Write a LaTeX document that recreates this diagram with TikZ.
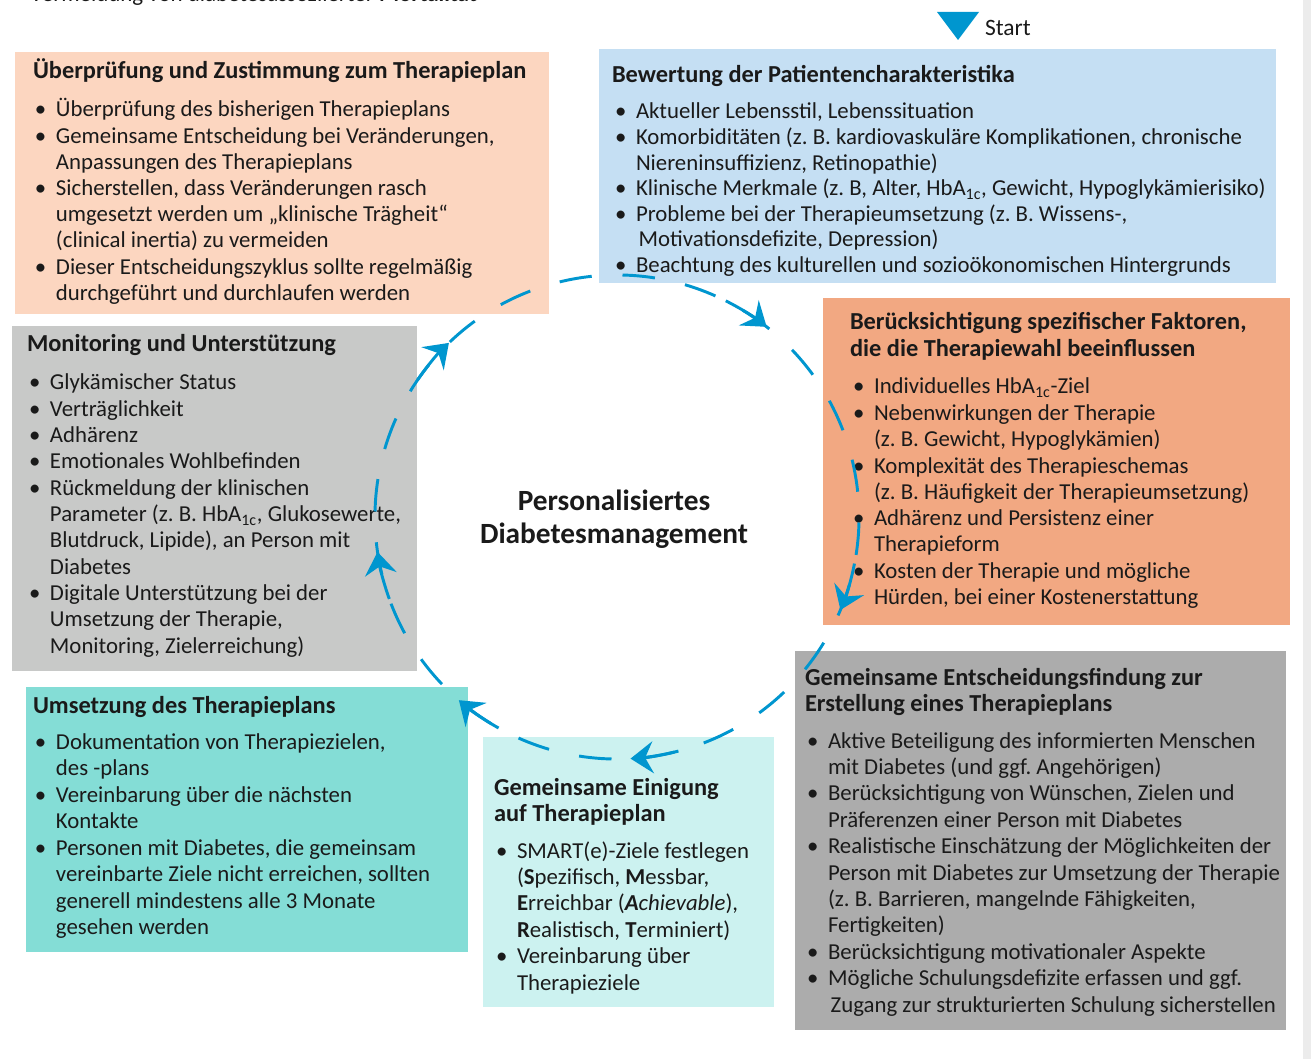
\documentclass[tikz,border=0pt]{standalone}
\usepackage{fontspec}
\setmainfont{Carlito}
\usetikzlibrary{arrows.meta}
\definecolor{cpeach}{RGB}{252,214,192}
\definecolor{cltblue}{RGB}{197,223,243}
\definecolor{csalmon}{RGB}{242,168,130}
\definecolor{cdkgray}{RGB}{172,172,172}
\definecolor{cltcyan}{RGB}{204,242,240}
\definecolor{cteal}{RGB}{132,221,214}
\definecolor{cltgray}{RGB}{200,201,200}
\definecolor{cblue}{RGB}{0,150,207}
\definecolor{ctext}{RGB}{26,26,26}
\definecolor{cedge}{RGB}{236,236,236}
\newlength{\bind}\setlength{\bind}{15.75pt}
\newcommand{\blist}[2]{\parbox[t]{640pt}{\frenchspacing\fontsize{17.1pt}{#1}\selectfont\setlength{\parskip}{0pt}\setlength{\parindent}{0pt}\setlength{\leftskip}{\bind}#2}}
\newcommand{\itm}{\par\noindent\llap{\makebox[\bind][l]{\textbullet}}}
\newcommand{\ttl}[2]{\parbox[t]{640pt}{\frenchspacing\fontsize{18.3pt}{#1}\selectfont\bfseries #2}}
\tikzset{
  x=0.75pt, y=-0.75pt,
  box/.style={anchor=north west, inner sep=0pt, outer sep=0pt, draw=none},
  txt/.style={anchor=base west, inner sep=0pt, outer sep=0pt, text=ctext},
  ring/.style={draw=cblue, line width=2.2pt, dash pattern=on 24.4pt off 23.12pt},
  arr/.style={draw=cblue, line width=2.2pt, -{Stealth[length=17pt,width=24pt,inset=6pt]}},
}
\begin{document}
\begin{tikzpicture}
\useasboundingbox (0,0) rectangle (1311,1059);
\fill[white] (0,0) rectangle (1311,1059);
\fill[cedge] (1303,0) rectangle (1311,1059);

% cut-off heading line at the top
\node[txt] (top) at (30,2) {\frenchspacing\fontsize{17.2pt}{20pt}\selectfont Vermeidung von diabetesassoziierter \textbf{Mortalität}};

% start marker
\fill[cblue] (937,12) -- (979,12) -- (958,40) -- cycle;
\node[txt] (start) at (985,36) {\fontsize{17.6pt}{20pt}\selectfont Start};

% boxes
\node[box, fill=cpeach,  minimum width=400.5pt,  minimum height=196.5pt]  (b1) at (15,52) {};
\node[box, fill=cltblue, minimum width=507.75pt, minimum height=175.5pt]  (b2) at (599,49) {};
\node[box, fill=csalmon, minimum width=350.25pt, minimum height=245.25pt] (b3) at (823,298) {};
\node[box, fill=cdkgray, minimum width=368.25pt, minimum height=284.25pt] (b4) at (795,651) {};
\node[box, fill=cltcyan, minimum width=218.25pt, minimum height=202.5pt]  (b5) at (483,737) {};
\node[box, fill=cteal,   minimum width=331.5pt,  minimum height=198.75pt] (b6) at (26,687) {};
\node[box, fill=cltgray, minimum width=303.75pt, minimum height=258.75pt] (b7) at (12,326) {};

% box 1
\node[txt] (t1) at (33,79) {\ttl{19.65pt}{Überprüfung und Zustimmung zum Therapieplan}};
\node[txt] (l1) at (35,117) {\blist{19.65pt}{%
\itm Überprüfung des bisherigen Therapieplans
\itm Gemeinsame Entscheidung bei Veränderungen,\\Anpassungen des Therapieplans
\itm Sicherstellen, dass Veränderungen rasch\\umgesetzt werden um „klinische Trägheit“\\(clinical inertia) zu vermeiden
\itm Dieser Entscheidungszyklus sollte regelmäßig\\durchgeführt und durchlaufen werden}};

% box 2
\node[txt] (t2) at (612,83) {\ttl{19.2pt}{Bewertung der Patientencharakteristika}};
\node[txt] (l2) at (615,119) {\blist{19.15pt}{%
\itm Aktueller Lebensstil, Lebenssituation
\itm Komorbiditäten (z. B. kardiovaskuläre Komplikationen, chronische\\Niereninsuffizienz, Retinopathie)
\itm Klinische Merkmale (z. B, Alter, HbA\textsubscript{1c}, Gewicht, Hypoglykämierisiko)
\itm Probleme bei der Therapieumsetzung (z. B. Wissens-,\\\hspace*{2pt}Motivationsdefizite, Depression)
\itm Beachtung des kulturellen und sozioökonomischen Hintergrunds}};

% box 3
\node[txt] (t3) at (850,330) {\ttl{19.8pt}{Berücksichtigung spezifischer Faktoren,\\die die Therapiewahl beeinflussen}};
\node[txt] (l3) at (853,394) {\blist{19.75pt}{%
\itm Individuelles HbA\textsubscript{1c}-Ziel
\itm Nebenwirkungen der Therapie\\(z. B. Gewicht, Hypoglykämien)
\itm Komplexität des Therapieschemas\\(z. B. Häufigkeit der Therapieumsetzung)
\itm Adhärenz und Persistenz einer\\Therapieform
\itm Kosten der Therapie und mögliche\\Hürden, bei einer Kostenerstattung}};

% box 4
\node[txt] (t4) at (805,685) {\ttl{19.8pt}{Gemeinsame Entscheidungsfindung zur\\Erstellung eines Therapieplans}};
\node[txt] (l4) at (807,748) {\blist{19.8pt}{%
\itm Aktive Beteiligung des informierten Menschen\\mit Diabetes (und ggf. Angehörigen)
\itm Berücksichtigung von Wünschen, Zielen und\\Präferenzen einer Person mit Diabetes
\itm Realistische Einschätzung der Möglichkeiten der\\Person mit Diabetes zur Umsetzung der Therapie\\(z. B. Barrieren, mangelnde Fähigkeiten,\\Fertigkeiten)
\itm Berücksichtigung motivationaler Aspekte
\itm Mögliche Schulungsdefizite erfassen und ggf.\\\hspace*{2pt}Zugang zur strukturierten Schulung sicherstellen}};

% box 5
\node[txt] (t5) at (494,795) {\ttl{19.6pt}{Gemeinsame Einigung\\auf Therapieplan}};
\node[txt] (l5) at (496,858) {\blist{19.8pt}{%
\itm SMART(e)-Ziele festlegen\\(\textbf{S}pezifisch, \textbf{M}essbar,\\\textbf{E}rreichbar (\textbf{\textit{A}}\textit{chievable}),\\\textbf{R}ealistisch, \textbf{T}erminiert)
\itm Vereinbarung über\\Therapieziele}};

% box 6
\node[txt] (t6) at (33,713) {\ttl{19.8pt}{Umsetzung des Therapieplans}};
\node[txt] (l6) at (35,749) {\blist{19.9pt}{%
\itm Dokumentation von Therapiezielen,\\des -plans
\itm Vereinbarung über die nächsten\\Kontakte
\itm Personen mit Diabetes, die gemeinsam\\vereinbarte Ziele nicht erreichen, sollten\\generell mindestens alle 3 Monate\\gesehen werden}};

% box 7
\node[txt] (t7) at (27,352) {\ttl{19.8pt}{Monitoring und Unterstützung}};
\node[txt] (l7) at (29,390) {\blist{19.75pt}{%
\itm Glykämischer Status
\itm Verträglichkeit
\itm Adhärenz
\itm Emotionales Wohlbefinden
\itm Rückmeldung der klinischen\\Parameter (z. B. HbA\textsubscript{1c}, Glukosewerte,\\Blutdruck, Lipide), an Person mit\\Diabetes
\itm Digitale Unterstützung bei der\\Umsetzung der Therapie,\\Monitoring, Zielerreichung)}};

% centre
\node[anchor=base, inner sep=0pt, text=ctext] (mid) at (614,510) {\parbox[t]{320pt}{\centering\fontsize{22pt}{24.75pt}\selectfont\bfseries Personalisiertes\\Diabetesmanagement}};

% cycle
\coordinate (c) at (617,517);
\draw[ring] ([shift={(-103.7:242)}]c) arc[start angle=-103.7, end angle=256.3, radius=242];
\foreach \a in {-55.3,19.1,83.3,127.3,168.2,222.5}{
  \draw[arr] ([shift={(\a-8:242)}]c) arc[start angle=\a-8, end angle=\a+3.5, radius=242];
}
\end{tikzpicture}
\end{document}
